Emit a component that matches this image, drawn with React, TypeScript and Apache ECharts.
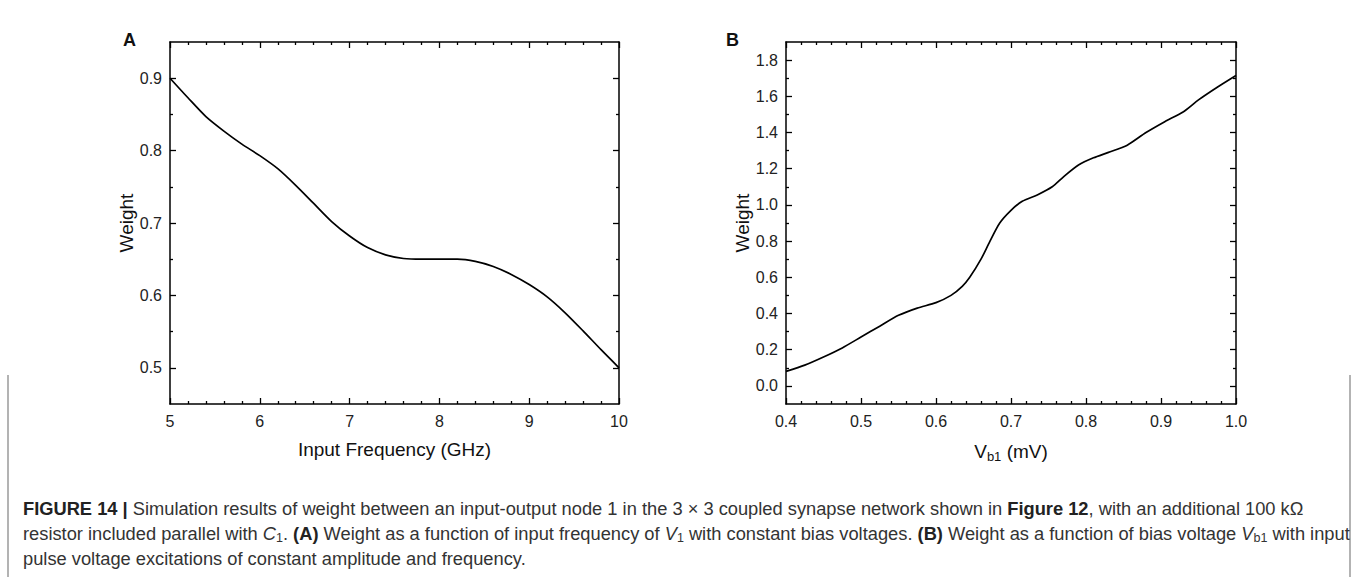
import React, { useEffect, useRef } from "react";
import * as echarts from "echarts";

// Panel A: Weight vs input frequency (GHz)
const freqGHz = [5.0, 5.2, 5.4, 5.6, 5.8, 6.0, 6.2, 6.4, 6.6, 6.8, 7.0, 7.2, 7.4, 7.6, 7.8, 8.0, 8.2, 8.4, 8.6, 8.8, 9.0, 9.2, 9.4, 9.6, 9.8, 10.0];
const weightA = [0.900, 0.873, 0.847, 0.827, 0.809, 0.793, 0.775, 0.752, 0.727, 0.702, 0.682, 0.666, 0.656, 0.651, 0.650, 0.650, 0.650, 0.647, 0.640, 0.629, 0.615, 0.598, 0.576, 0.551, 0.525, 0.500];

// Panel B: Weight vs Vb1 (mV)
const vb1 = [0.40, 0.425, 0.45, 0.475, 0.50, 0.525, 0.55, 0.575, 0.60, 0.62, 0.635, 0.645, 0.66, 0.672, 0.685, 0.70, 0.715, 0.735, 0.755, 0.77, 0.79, 0.81, 0.83, 0.855, 0.88, 0.905, 0.93, 0.95, 0.975, 1.0];
const weightB = [0.08, 0.115, 0.16, 0.21, 0.27, 0.33, 0.39, 0.43, 0.46, 0.50, 0.55, 0.60, 0.70, 0.80, 0.90, 0.97, 1.02, 1.055, 1.10, 1.155, 1.22, 1.26, 1.29, 1.33, 1.40, 1.46, 1.515, 1.58, 1.65, 1.715];

// Tick values
const aYMajor = [0.5, 0.6, 0.7, 0.8, 0.9];
const aYMinor = [0.55, 0.65, 0.75, 0.85];
const bYMajor = [0.0, 0.2, 0.4, 0.6, 0.8, 1.0, 1.2, 1.4, 1.6, 1.8];
const bYMinor = [0.1, 0.3, 0.5, 0.7, 0.9, 1.1, 1.3, 1.5, 1.7];

const FONT = "'Liberation Sans', Arial, Helvetica, sans-serif";
const BLACK = "#000";

const captionLines = [
  "{b|FIGURE 14 |} Simulation results of weight between an input-output node 1 in the 3 × 3 coupled synapse network shown in {b|Figure 12}, with an additional 100 kΩ",
  "resistor included parallel with {i|C}{sub|1}. {b|(A)} Weight as a function of input frequency of {i|V}{sub|1} with constant bias voltages. {b|(B)} Weight as a function of bias voltage {i|V}{sub|b1} with input",
  "pulse voltage excitations of constant amplitude and frequency.",
];

function xAxes(grid: number, min: number, max: number, interval: number, digits: number, name: string) {
  const line = { show: true, onZero: false, lineStyle: { color: BLACK, width: 1.5 } };
  const tick = { show: true, inside: true, length: 6, lineStyle: { color: BLACK, width: 1.3 } };
  const minor = { show: true, splitNumber: 5, length: 3, lineStyle: { color: BLACK, width: 1.3 } };
  return [
    {
      type: "value", gridIndex: grid, position: "bottom", min, max, interval,
      axisLine: line, axisTick: tick, minorTick: minor, splitLine: { show: false }, minorSplitLine: { show: false },
      axisLabel: { margin: 9, fontSize: 16, color: "#222", fontFamily: FONT, formatter: (v: number) => v.toFixed(digits) },
      name, nameLocation: "middle", nameGap: 36,
      nameTextStyle: { fontSize: 19, color: "#111", fontFamily: FONT,
        rich: {
          a: { fontSize: 19, color: "#111", fontFamily: FONT, lineHeight: 23 },
          sub: { fontSize: 13, color: "#111", fontFamily: FONT, lineHeight: 13, verticalAlign: "bottom" },
        } },
    },
    {
      type: "value", gridIndex: grid, position: "top", min, max, interval,
      axisLine: line, axisTick: tick, minorTick: minor, splitLine: { show: false }, minorSplitLine: { show: false },
      axisLabel: { show: false },
    },
  ];
}

function yAxes(grid: number, min: number, max: number, major: number[], minor: number[]) {
  const line = { show: true, onZero: false, lineStyle: { color: BLACK, width: 1.5 } };
  const base = { type: "value", gridIndex: grid, min, max, splitLine: { show: false } };
  const out: any[] = [];
  for (const pos of ["left", "right"]) {
    out.push({
      ...base, position: pos, axisLine: line,
      axisTick: { show: true, inside: true, length: 6, customValues: major, lineStyle: { color: BLACK, width: 1.3 } },
      axisLabel: pos === "left"
        ? { show: true, customValues: major, margin: 8, fontSize: 16, color: "#222", fontFamily: FONT, formatter: (v: number) => v.toFixed(1) }
        : { show: false },
      ...(pos === "left"
        ? { name: "Weight", nameLocation: "middle", nameGap: 33, nameTextStyle: { fontSize: 19, color: "#111", fontFamily: FONT } }
        : {}),
    });
    out.push({
      ...base, position: pos, axisLine: { show: false },
      axisTick: { show: true, inside: true, length: 3, customValues: minor, lineStyle: { color: BLACK, width: 1.3 } },
      axisLabel: { show: false },
    });
  }
  return out;
}

export default function App() {
  const ref = useRef<HTMLDivElement>(null);
  useEffect(() => {
    document.body.style.margin = "0";
    const chart = echarts.init(ref.current!, undefined, { renderer: "svg" });
    const capFont = 18.3;
    const option: any = {
      animation: false,
      backgroundColor: "#fff",
      grid: [
        { left: 170, top: 42, width: 449, height: 362 },
        { left: 786, top: 42, width: 450, height: 362 },
      ],
      xAxis: [
        ...xAxes(0, 5, 10, 1, 0, "Input Frequency (GHz)"),
        ...xAxes(1, 0.4, 1.0, 0.1, 1, "{a|V}{sub|b1}{a| (mV)}"),
      ],
      yAxis: [
        ...yAxes(0, 0.45, 0.95, aYMajor, aYMinor),
        ...yAxes(1, -0.1, 1.9, bYMajor, bYMinor),
      ],
      series: [
        {
          type: "line", xAxisIndex: 0, yAxisIndex: 0, showSymbol: false, smooth: 0.25,
          lineStyle: { color: BLACK, width: 1.7 },
          data: freqGHz.map((x, i) => [x, weightA[i]]),
        },
        {
          type: "line", xAxisIndex: 2, yAxisIndex: 4, showSymbol: false, smooth: 0.25,
          lineStyle: { color: BLACK, width: 1.7 },
          data: vb1.map((x, i) => [x, weightB[i]]),
        },
      ],
      graphic: [
        { type: "line", shape: { x1: 8, y1: 375, x2: 8, y2: 577 }, style: { stroke: "#9a9a9a", lineWidth: 1.5 } },
        { type: "line", shape: { x1: 1350, y1: 375, x2: 1350, y2: 577 }, style: { stroke: "#9a9a9a", lineWidth: 1.5 } },
        { type: "text", x: 123, y: 40, style: { text: "A", font: `bold 18px ${FONT}`, fill: "#111", verticalAlign: "middle" } },
        { type: "text", x: 726, y: 40, style: { text: "B", font: `bold 18px ${FONT}`, fill: "#111", verticalAlign: "middle" } },
        ...captionLines.map((t, i) => ({
          type: "text", x: 23, y: [508, 533, 558][i],
          style: {
            text: t, fontSize: capFont, fontFamily: FONT, fill: "#333", verticalAlign: "middle",
            rich: {
              b: { fontSize: capFont, fontWeight: "bold", fontFamily: FONT, fill: "#222", lineHeight: 22 },
              i: { fontSize: capFont, fontStyle: "italic", fontFamily: FONT, fill: "#333", lineHeight: 22 },
              sub: { fontSize: 12.5, fontFamily: FONT, fill: "#333", lineHeight: 12, verticalAlign: "bottom" },
            },
          },
        })),
      ],
    };
    chart.setOption(option);
    return () => chart.dispose();
  }, []);
  return <div ref={ref} style={{ width: 1357, height: 577 }} />;
}
